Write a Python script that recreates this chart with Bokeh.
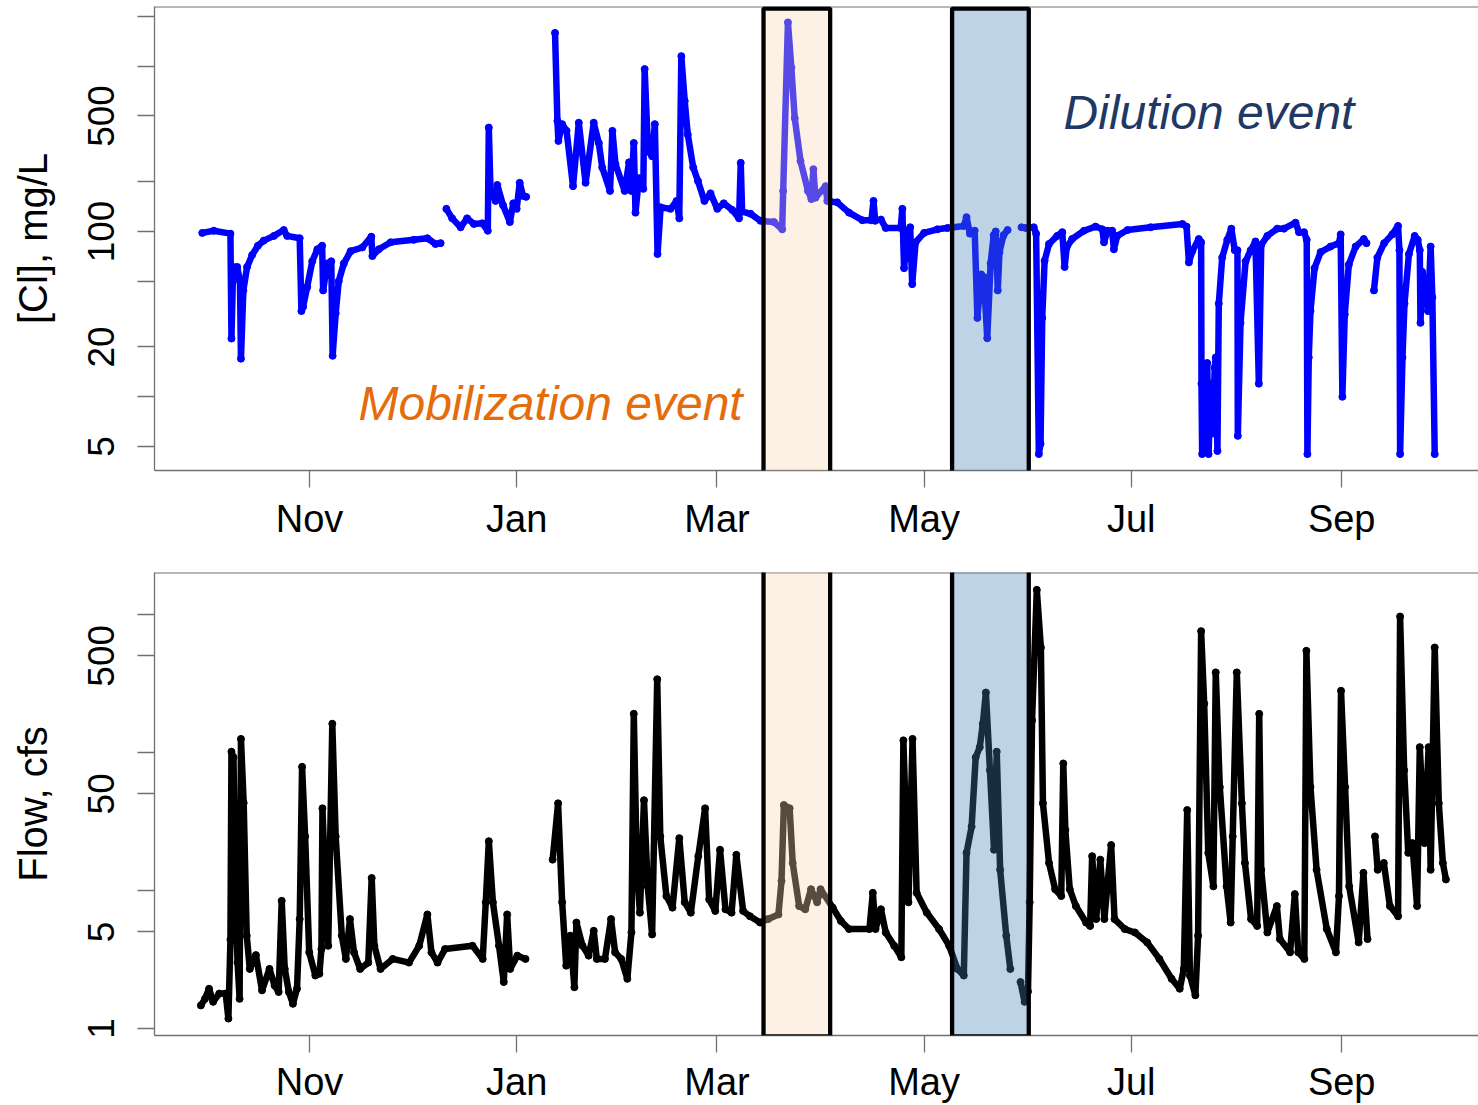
import numpy as np
import pandas as pd
from bokeh.plotting import figure
from bokeh.layouts import column
from bokeh.models import Range1d, FixedTicker, BoxAnnotation, Label, Span
from bokeh.embed import file_html
from bokeh.resources import INLINE

# ---------------- data ----------------
# x values: days since 2016-11-01 ; None = gap in the record
START_DATE = "2016-11-01"

month_ticks = ["2016-11-01", "2017-01-01", "2017-03-01", "2017-05-01", "2017-07-01", "2017-09-01"]
month_labels = ["Nov", "Jan", "Mar", "May", "Jul", "Sep"]

cl_tick_values = [5, 20, 100, 500]
cl_tick_labels = ["5", "20", "100", "500"]
cl_minor_ticks = [10, 50, 200, 1000, 2000]

flow_tick_values = [1, 5, 50, 500]
flow_tick_labels = ["1", "5", "50", "500"]
flow_minor_ticks = [10, 100, 1000]

cl_day = [
    -31.6, -28.2, -23.3, -23.0, -22.5, -21.3, -20.5, -20.2, -19.5, -18.4,
    -16.9, -15.2, -13.5, -10.5, -7.6, -6.6, -2.9, -2.4, -1.9, -0.7,
    0.8, 2.3, 3.7, 4.0, 5.2, 6.4, 6.8, 7.7, 8.6, 10.1,
    12.1, 15.5, 18.2, 18.5, 20.4, 23.9, 30.7, 34.7, 37.1, 38.6,
    None,
    40.3, 42.0, 44.5, 46.4, 48.4, 50.9, 52.5, 52.8, 53.3, 54.8,
    55.3, 57.0, 59.0, 60.0, 61.0, 61.9, 62.9, 63.8,
    None,
    72.3, 73.0, 73.3, 74.4, 75.7, 77.6, 79.3, 81.3, 83.7, 85.2,
    86.2, 88.5, 89.2, 90.1, 92.8, 94.1, 94.8, 95.5, 96.0, 97.0,
    98.3, 98.7, 99.7, 100.9, 101.7, 102.5, 103.4, 106.3, 108.1, 108.9,
    109.5, 110.5, 111.4, 113.0, 114.4, 116.3, 118.1, 120.1, 122.0, 124.5,
    126.5, 127.0, 127.4, 129.9, 132.8, 136.8, 139.2, 139.5, 140.9, 141.9,
    142.9, 144.6, 146.8, 147.8, 148.4, 149.0, 152.0, 152.5, 155.4, 158.9,
    162.8, 165.5, 166.1, 166.6,
    None,
    168.3, 169.7, 174.1, 174.6, 175.1, 176.1, 176.9, 177.5, 178.5, 181.0,
    184.9, 187.9, 192.7, 193.5, 194.5, 195.9, 196.7, 197.8, 198.6, 199.6,
    200.6, 201.5, 202.1, 202.7, 203.2, 204.4, 205.6,
    None,
    209.7, 210.9, 213.3, 214.0, 214.8, 215.3, 215.8, 216.5, 217.8, 220.2,
    221.7, 222.4, 223.0, 224.6, 228.1, 231.5, 233.5, 234.0, 235.0, 236.4,
    236.9, 237.9, 240.9, 247.7, 257.1, 258.3, 259.0, 260.0, 261.9, 262.6,
    262.7, 262.9, 263.3, 263.9, 264.4, 264.8, 265.4, 266.0, 266.6, 266.9,
    267.4, 267.8, 268.8, 270.3, 271.5, 272.5, 273.3, 273.4, 274.2, 275.7,
    277.2, 278.6, 279.6, 280.3, 282.1, 285.0, 287.0, 290.4, 291.4, 292.9,
    293.7, 293.9, 294.3, 294.8, 296.0, 297.8, 300.7, 303.2, 303.7, 304.2,
    304.9, 306.1, 308.1, 310.5, 311.3,
    None,
    313.5, 314.5, 316.5, 318.9, 320.6, 321.0, 321.2, 321.9, 322.5, 323.8,
    325.5, 326.4, 327.0, 327.2, 327.7, 328.7, 329.4, 330.2, 330.7, 331.4,
]
cl_mgl = [
    98, 101, 97, 22.5, 61, 61, 50, 17, 44, 61,
    72, 82, 88, 94, 102, 94, 91, 33, 35, 46,
    66, 78, 82, 44, 64, 66, 17.7, 32, 50, 64,
    76, 80, 93, 71, 78, 86, 89, 91, 84, 85,
    None,
    137, 120, 106, 120, 111, 112, 101, 425, 176, 153,
    191, 144, 114, 148, 137, 197, 164, 162,
    None,
    1590, 466, 353, 446, 406, 188, 455, 197, 455, 343,
    244, 176, 406, 256, 176, 262, 176, 343, 130, 210,
    181, 960, 307, 285, 446, 73, 140, 137, 153, 120,
    1150, 616, 386, 244, 202, 153, 170, 137, 148, 135,
    120, 260, 132, 128, 116, 114, 103, 176, 1840, 980,
    485, 267, 176, 157, 238, 160, 188, 153, 150, 130,
    117, 117, 153, 116,
    None,
    118, 105, 105, 137, 60, 97, 106, 48, 86, 98,
    103, 105, 108, 122, 97, 101, 30, 55, 53, 22.6,
    64, 95, 100, 44, 75, 95, 102,
    None,
    106, 105, 106, 97, 4.5, 5.2, 30, 66.5, 84, 94,
    99, 61, 80, 90, 101, 107, 103, 86, 101, 101,
    78, 94, 102, 106, 111, 107, 65, 76, 90, 86,
    12, 4.5, 10, 5, 16, 4.5, 12, 6, 15, 17.3,
    4.7, 36.6, 69.5, 89, 104, 77, 77, 5.8, 28, 66,
    77, 87, 12, 83, 94, 104, 104, 113, 99, 99,
    89, 4.5, 17.3, 33, 60, 75, 81, 85, 96, 10,
    31.5, 63, 81, 90, 85,
    None,
    44, 69.5, 85, 96, 108, 77, 4.5, 17.3, 36.6, 73,
    94, 89, 77, 28, 57, 47, 33, 81, 40, 4.5,
]

flow_day = [
    -32.0, -30.8, -29.6, -28.4, -26.6, -24.7, -23.9, -23.3, -23.0, -22.4,
    -21.8, -21.2, -20.6, -20.2, -19.4, -18.5, -17.6, -15.8, -14.0, -11.8,
    -10.3, -9.1, -8.2, -7.3, -6.1, -4.9, -3.7, -2.9, -2.2, -1.3,
    -0.1, 1.7, 2.9, 3.5, 3.8, 4.7, 5.5, 6.7, 7.7, 9.5,
    10.7, 11.9, 13.1, 14.9, 17.3, 18.3, 19.1, 20.9, 24.5, 29.3,
    32.3, 34.7, 35.9, 37.7, 39.9, 48.0, 51.0, 51.9, 52.8, 54.0,
    55.8, 57.2, 58.2, 59.1, 61.2, 63.6,
    None,
    71.6, 73.2, 74.4, 75.6, 76.8, 78.0, 78.6, 80.4, 82.2, 83.7,
    84.6, 87.0, 88.8, 90.0, 91.8, 93.6, 94.8, 95.5, 96.4, 97.3,
    98.5, 99.6, 100.9, 102.4, 103.3, 105.1, 106.9, 108.9, 110.5, 112.3,
    114.5, 116.5, 117.7, 119.5, 120.9, 122.5, 124.3, 125.7, 127.7, 129.7,
    132.7, 135.1, 138.1, 139.0, 139.7, 141.4, 142.3, 144.2, 146.0, 147.7,
    149.5, 150.5, 154.1, 156.5, 158.9, 164.9, 165.9, 166.7, 168.3, 169.7,
    172.2, 174.3, 174.9, 176.4, 177.6, 178.8, 181.8, 185.4, 188.4, 190.8,
    192.7, 193.5, 195.0, 196.2, 197.4, 198.3, 199.2, 200.4, 201.6, 202.4,
    203.4, 205.2, 206.4,
    None,
    209.4, 210.6, 211.6, 212.1, 212.8, 214.2, 215.4, 216.0, 217.8, 219.6,
    221.4, 222.0, 222.6, 223.9, 225.7, 228.7, 229.9, 230.5, 231.7, 232.9,
    234.1, 236.1, 237.1, 240.1, 243.1, 246.7, 250.3, 253.9, 256.3, 257.5,
    258.5, 259.3, 260.9, 261.7, 262.6, 263.5, 264.7, 266.2, 266.9, 268.1,
    270.1, 271.3, 271.9, 273.1, 274.6, 275.5, 277.3, 279.1, 279.7, 280.3,
    282.1, 284.9, 285.8, 288.8, 290.2, 291.2, 293.0, 293.6, 294.8, 296.6,
    299.6, 302.3, 303.2, 303.8, 305.0, 306.2, 309.0, 310.4, 311.6,
    None,
    313.8, 314.6, 316.4, 318.2, 320.6, 321.2, 322.4, 323.6, 324.8, 326.2,
    327.0, 328.4, 329.6, 330.2, 331.4, 332.6, 333.8, 334.7,
]
flow_cfs = [
    1.47, 1.64, 1.94, 1.56, 1.79, 1.79, 1.18, 4.4, 101, 92,
    8.2, 3.0, 1.64, 125, 43, 4.7, 2.7, 3.4, 1.89, 2.7,
    2.05, 1.84, 8.4, 2.7, 1.84, 1.51, 1.94, 6.2, 78.5, 24.6,
    3.56, 2.42, 2.49, 3.76, 39.3, 10.2, 3.97, 161, 24.6, 4.7,
    3.19, 6.2, 3.56, 2.7, 3.0, 12.3, 3.97, 2.7, 3.19, 3.0,
    3.97, 6.7, 3.56, 3.0, 3.76, 3.97, 3.19, 8.2, 22.7, 8.2,
    3.97, 2.17, 6.7, 2.7, 3.37, 3.19,
    None,
    16.7, 42.7, 8.2, 2.85, 4.7, 1.99, 5.85, 3.97, 3.37, 5.1,
    3.19, 3.19, 6.2, 3.56, 3.19, 2.29, 4.96, 190, 14.1, 6.9,
    45, 10.7, 4.8, 338, 24.6, 9.1, 7.5, 23.9, 8.2, 6.9,
    17.7, 39.3, 8.6, 7.1, 19.7, 7.3, 6.9, 18.1, 7.1, 6.5,
    5.85, 6.2, 6.7, 11.7, 41.5, 39.3, 15.8, 7.7, 7.3, 10.2,
    8.2, 10.2, 7.5, 6.0, 5.25, 5.25, 9.6, 5.25, 7.3, 4.96,
    3.97, 3.28, 122, 8.2, 125, 9.6, 6.9, 5.25, 3.97, 2.7,
    2.42, 18.7, 29, 92, 109, 161, 271, 74, 19.7, 101,
    14.1, 4.7, 2.7,
    None,
    2.17, 1.56, 1.85, 8.2, 170, 1500, 574, 42.7, 15.8, 10.2,
    9.1, 83, 27.4, 10.2, 7.7, 5.85, 5.53, 17.7, 6.2, 16.7,
    6.2, 21.3, 6.2, 5.25, 4.96, 4.2, 3.19, 2.29, 1.94, 2.7,
    38.2, 2.42, 1.74, 4.7, 754, 225, 18.7, 10.7, 379, 56,
    10.7, 5.85, 24.6, 379, 42.7, 15.8, 6.2, 5.53, 190, 14.1,
    4.96, 7.7, 4.44, 3.56, 9.4, 3.56, 3.19, 543, 56, 14.1,
    5.25, 3.56, 9.1, 279, 56, 10.7, 4.2, 13.4, 4.44,
    None,
    24.6, 14.1, 15.8, 7.7, 6.5, 962, 74, 18.7, 22, 7.7,
    109, 22, 109, 14.1, 574, 42.7, 15.8, 12.0,
]

# event windows
event_names = ["Mobilization event", "Dilution event"]
event_start = ["2017-03-14 17:00", "2017-05-09 06:00"]
event_end = ["2017-04-03 08:00", "2017-05-31 20:00"]
event_fill = ["#F9D4B2", "#4682B4"]

# ---------------- helpers ----------------
FONT = "Liberation Sans"
GRAY = "#707070"
DAY_MS = 86400000.0


def ms(ts):
    return pd.Timestamp(ts).value / 1e6


BASE_MS = ms(START_DATE)


def to_x(days):
    return np.array([np.nan if d is None else BASE_MS + d * DAY_MS for d in days], dtype=float)


def to_y(vals):
    return np.array([np.nan if v is None else v for v in vals], dtype=float)


month_ms = [ms(m) for m in month_ticks]
x_range = Range1d(ms("2016-09-16 08:00"), ms("2017-10-11 07:00"))


def make_fig(height, yr, border_top, border_bottom, x_standoff):
    p = figure(width=1478, height=height, x_axis_type="datetime", y_axis_type="log",
               x_range=x_range, y_range=yr, output_backend="svg", toolbar_location=None,
               min_border_left=154, min_border_right=0, min_border_top=border_top,
               min_border_bottom=border_bottom)
    p.outline_line_color = None
    p.grid.visible = False
    p.background_fill_color = "white"
    p.border_fill_color = "white"
    for ax in (p.xaxis[0], p.yaxis[0]):
        ax.axis_line_color = GRAY
        ax.axis_line_width = 1.3
        ax.major_tick_line_color = GRAY
        ax.major_tick_line_width = 1.3
        ax.major_tick_out = 17
        ax.major_tick_in = 0
        ax.minor_tick_line_color = GRAY
        ax.minor_tick_line_width = 1.3
        ax.minor_tick_out = 17
        ax.minor_tick_in = 0
        ax.major_label_text_font = FONT
        ax.major_label_text_color = "black"
        ax.axis_label_text_font = FONT
        ax.axis_label_text_font_style = "normal"
        ax.axis_label_text_color = "black"
        ax.axis_label_text_font_size = "40px"
    xa = p.xaxis[0]
    xa.ticker = FixedTicker(ticks=month_ms)
    xa.major_label_overrides = {t: lab for t, lab in zip(month_ms, month_labels)}
    xa.minor_tick_line_color = None
    xa.major_label_text_font_size = "38px"
    xa.major_label_standoff = x_standoff
    ya = p.yaxis[0]
    ya.major_label_orientation = "vertical"
    ya.major_label_text_font_size = "37px"
    ya.major_label_standoff = 23
    ya.axis_label_standoff = 31
    return p


LW = 6.5
PS = 7

# ---------------- top: chloride ----------------
CL_TOP = 2296
p1 = make_fig(560, Range1d(3.58, CL_TOP), 6, 90, 10)
p1.yaxis[0].ticker = FixedTicker(ticks=cl_tick_values, minor_ticks=cl_minor_ticks)
p1.yaxis[0].major_label_overrides = {v: s for v, s in zip(cl_tick_values, cl_tick_labels)}
p1.yaxis[0].axis_label = "[Cl], mg/L"
p1.add_layout(Span(location=CL_TOP, dimension="width", line_color=GRAY, line_width=2))

cx, cy = to_x(cl_day), to_y(cl_mgl)
p1.line(cx, cy, line_color="#0000FF", line_width=LW, line_join="round", line_cap="round")
p1.scatter(cx, cy, size=PS, color="#0000FF")

# ---------------- bottom: flow ----------------
FL_TOP = 2004
p2 = make_fig(545, Range1d(0.89, FL_TOP), 12, 68, 8)
p2.yaxis[0].ticker = FixedTicker(ticks=flow_tick_values, minor_ticks=flow_minor_ticks)
p2.yaxis[0].major_label_overrides = {v: s for v, s in zip(flow_tick_values, flow_tick_labels)}
p2.yaxis[0].axis_label = "Flow, cfs"
p2.add_layout(Span(location=FL_TOP, dimension="width", line_color=GRAY, line_width=2))

fx, fy = to_x(flow_day), to_y(flow_cfs)
p2.line(fx, fy, line_color="black", line_width=LW, line_join="round", line_cap="round")
p2.scatter(fx, fy, size=PS, color="black")

# ---------------- event boxes spanning both panels ----------------
for s, e, c in zip(event_start, event_end, event_fill):
    p1.add_layout(BoxAnnotation(left=ms(s), right=ms(e), top=8, bottom=640,
                                top_units="canvas", bottom_units="canvas",
                                fill_color=c, fill_alpha=0.35,
                                line_color="black", line_alpha=1.0, line_width=4.3))
    p2.add_layout(BoxAnnotation(left=ms(s), right=ms(e), top=-30, bottom=476,
                                top_units="canvas", bottom_units="canvas",
                                fill_color=c, fill_alpha=0.35,
                                line_color="black", line_alpha=1.0, line_width=4.3))

# ---------------- event captions ----------------
p1.add_layout(Label(x=ms("2016-11-15 10:00"), y=9.05, text=event_names[0], text_color="#E46C0A",
                    text_font=FONT, text_font_style="italic", text_font_size="48px",
                    text_align="left", text_baseline="middle"))
p1.add_layout(Label(x=ms("2017-06-11 02:00"), y=528, text=event_names[1], text_color="#1F3864",
                    text_font=FONT, text_font_style="italic", text_font_size="48px",
                    text_align="left", text_baseline="middle"))

layout = column(p1, p2)
open("out.html", "w").write(file_html(layout, INLINE))
